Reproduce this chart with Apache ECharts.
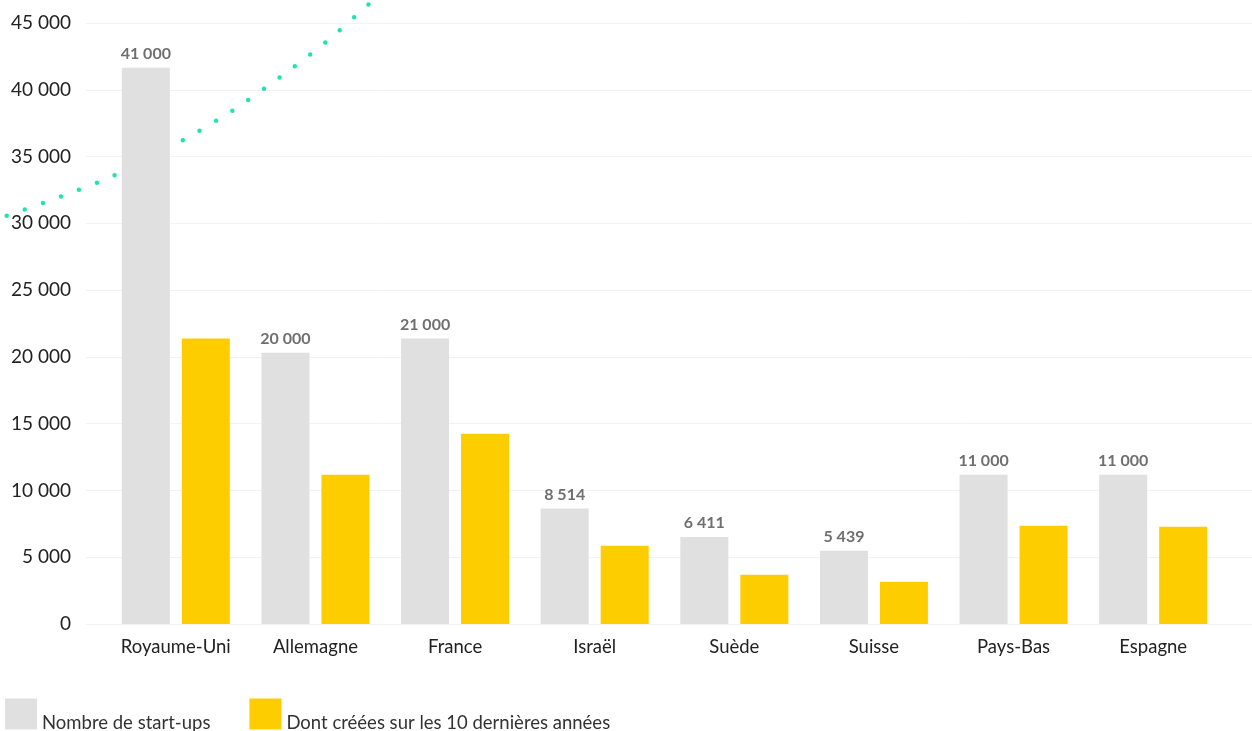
<!DOCTYPE html>
<html lang="fr">
<head>
    <meta charset="UTF-8">
    <title>start-ups</title>
    <style>
        html, body {margin: 0; padding: 0; background: #fff;}
    </style>
</head>
<body>
<div id="chart" style="width: 1252px;height: 731px"></div>
<script src="https://cdn.jsdelivr.net/npm/echarts@6.0.0/dist/echarts.min.js"></script>
<script>
    const countries = ['Royaume-Uni', 'Allemagne', 'France', 'Israël', 'Suède', 'Suisse', 'Pays-Bas', 'Espagne'];
    // bar heights
    const totalStartups = [41650, 20310, 21370, 8650, 6510, 5490, 11180, 11180];
    const recentStartups = [21370, 11180, 14250, 5860, 3690, 3170, 7360, 7285];
    // labels printed above the grey bars
    const totalLabels = ['41 000', '20 000', '21 000', '8 514', '6 411', '5 439', '11 000', '11 000'];
    const yTicks = [0, 5000, 10000, 15000, 20000, 25000, 30000, 35000, 40000, 45000];
    // decorative dotted curve (x in category units, y in axis units)
    const curveX = [-1.211, -0.822, -0.436, 0.051, 0.410, 0.753, 1.083, 1.384, 1.5];
    const curveY = [30570, 32010, 33610, 36230, 38470, 40990, 43650, 46420, 47500];

    const fmt = v => String(v).replace(/\B(?=(\d{3})+(?!\d))/g, ' ');
    const font = 'Lato, "Open Sans", sans-serif';

    const chart = echarts.init(document.getElementById('chart'));
    chart.setOption({
        animation: false,
        grid: [
            {left: 86, right: 0, top: 23, bottom: 107},
            {left: 106, right: 29, top: 23, bottom: 107},
            {left: 0, right: 0, top: 23, bottom: 107}
        ],
        legend: {
            left: 5,
            top: 695.5,
            padding: 0,
            itemWidth: 32,
            itemHeight: 31,
            itemGap: 39,
            icon: 'rect',
            selectedMode: false,
            // empty first line pushes the text down to the bottom of the square
            formatter: name => '\n' + name,
            textStyle: {
                fontFamily: font,
                fontSize: 18.5,
                lineHeight: 18,
                color: '#333'
            },
            data: ['Nombre de start-ups', 'Dont créées sur les 10 dernières années']
        },
        xAxis: [
            {gridIndex: 0, type: 'value', show: false, min: 0, max: 1},
            {
                gridIndex: 1,
                type: 'category',
                data: countries,
                axisLine: {show: false},
                axisTick: {show: false},
                axisLabel: {
                    interval: 0,
                    fontFamily: font,
                    fontSize: 18.5,
                    color: '#222',
                    margin: 14
                }
            },
            // same category units as the bars, stretched over the full width
            {gridIndex: 2, type: 'value', show: false, min: -1.259, max: 7.708}
        ],
        yAxis: [
            {
                gridIndex: 0,
                type: 'value',
                min: 0,
                max: 45000,
                interval: 5000,
                axisLine: {show: false},
                axisTick: {show: false},
                splitLine: {lineStyle: {color: '#f2f2f2', width: 1}},
                axisLabel: {
                    fontFamily: font,
                    fontSize: 19,
                    color: '#222',
                    margin: 15,
                    formatter: v => yTicks.includes(v) ? fmt(v) : ''
                }
            },
            {gridIndex: 1, type: 'value', show: false, min: 0, max: 45000},
            {gridIndex: 2, type: 'value', show: false, min: 0, max: 45000}
        ],
        series: [
            {
                type: 'line',
                xAxisIndex: 2,
                yAxisIndex: 2,
                data: curveX.map((x, i) => [x, curveY[i]]),
                smooth: 0.3,
                clip: false,
                symbol: 'none',
                z: 1,
                lineStyle: {
                    color: '#1ee3b2',
                    width: 4.5,
                    type: [0, 19.2],
                    cap: 'round'
                },
                silent: true
            },
            {
                name: 'Nombre de start-ups',
                type: 'bar',
                xAxisIndex: 1,
                yAxisIndex: 1,
                data: totalStartups,
                barWidth: 48,
                barGap: '25%',
                z: 3,
                itemStyle: {color: '#e0e0e0'},
                label: {
                    show: true,
                    position: 'top',
                    distance: 6,
                    fontFamily: font,
                    fontSize: 16,
                    fontWeight: 'bold',
                    color: '#6f6f6f',
                    formatter: p => totalLabels[p.dataIndex]
                }
            },
            {
                name: 'Dont créées sur les 10 dernières années',
                type: 'bar',
                xAxisIndex: 1,
                yAxisIndex: 1,
                data: recentStartups,
                barWidth: 48,
                z: 3,
                itemStyle: {color: '#fecd00'}
            }
        ]
    });
    window.addEventListener('resize', () => chart.resize());
</script>
</body>
</html>
